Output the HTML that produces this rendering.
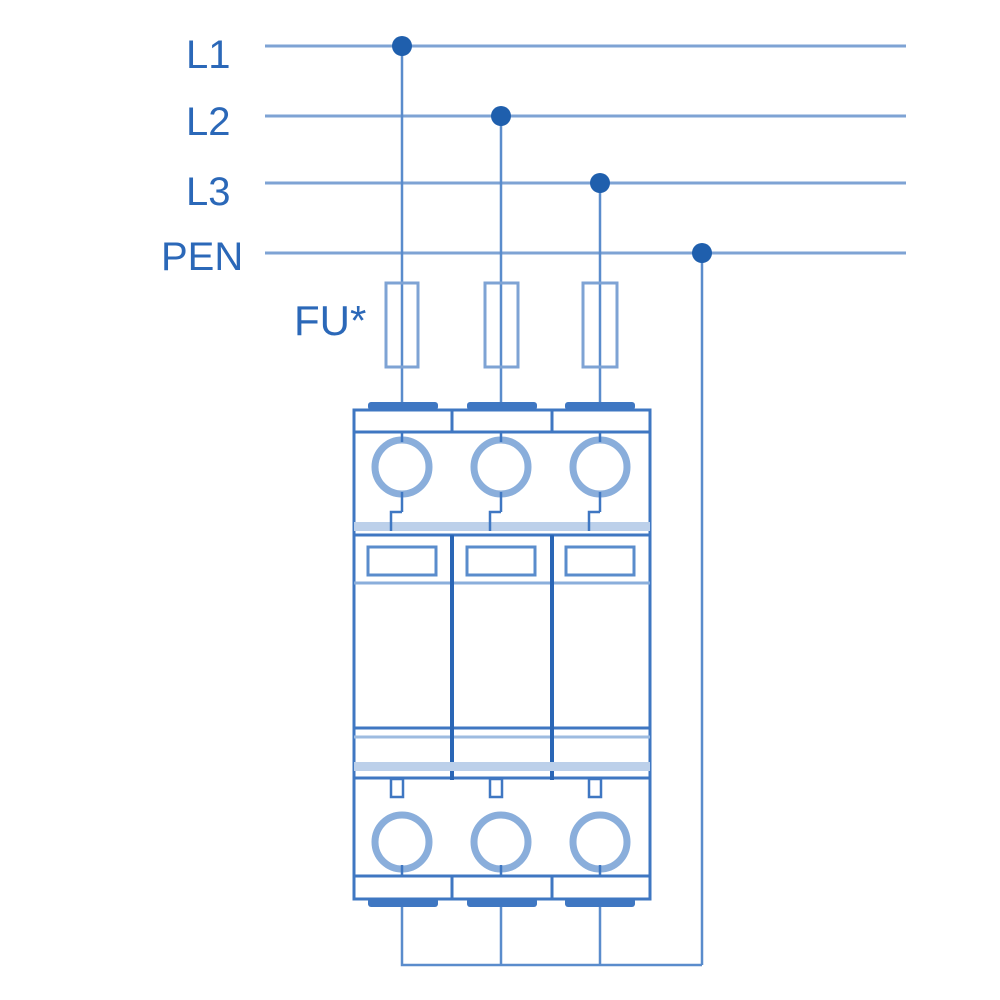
<!DOCTYPE html>
<html><head><meta charset="utf-8"><style>
html,body{margin:0;padding:0;background:#fff;}
svg{display:block;}
text{font-family:"Liberation Sans",sans-serif;fill:#2b68b8;}
</style></head><body>
<svg width="1000" height="1000" viewBox="0 0 1000 1000">
<g stroke="#7ea3d4" stroke-width="3" fill="none">
  <line x1="265" y1="46" x2="906" y2="46"/>
  <line x1="265" y1="116" x2="906" y2="116"/>
  <line x1="265" y1="183" x2="906" y2="183"/>
  <line x1="265" y1="253" x2="906" y2="253"/>
</g>
<g stroke="#5a8ccc" stroke-width="2.5" fill="none">
  <line x1="402" y1="46" x2="402" y2="410"/>
  <line x1="501" y1="116" x2="501" y2="410"/>
  <line x1="600" y1="183" x2="600" y2="410"/>
  <line x1="702" y1="253" x2="702" y2="965"/>
  <polyline points="402,905 402,965 702,965"/>
  <line x1="501" y1="905" x2="501" y2="965"/>
  <line x1="600" y1="905" x2="600" y2="965"/>
</g>
<g fill="#1f5fad">
  <circle cx="402" cy="46" r="10"/>
  <circle cx="501" cy="116" r="10"/>
  <circle cx="600" cy="183" r="10"/>
  <circle cx="702" cy="253" r="10"/>
</g>
<text x="186" y="68" font-size="40">L1</text>
<text x="186" y="135" font-size="40">L2</text>
<text x="186" y="205" font-size="40">L3</text>
<text x="161" y="270" font-size="40">PEN</text>
<text x="294" y="335" font-size="42">FU*</text>
<g stroke="#7ea3d4" stroke-width="3" fill="none">
  <rect x="386" y="283" width="32" height="84"/>
  <rect x="485" y="283" width="33" height="84"/>
  <rect x="583" y="283" width="34" height="84"/>
</g>
<g fill="#3f77c2">
  <rect x="368" y="402" width="70" height="8" rx="3"/>
  <rect x="467" y="402" width="70" height="8" rx="3"/>
  <rect x="565" y="402" width="70" height="8" rx="3"/>
  <rect x="368" y="898" width="70" height="9" rx="3"/>
  <rect x="467" y="898" width="70" height="9" rx="3"/>
  <rect x="565" y="898" width="70" height="9" rx="3"/>
</g>
<g stroke="#3f77c2" stroke-width="3" fill="none">
  <rect x="354" y="410" width="296" height="489"/>
  <line x1="354" y1="432" x2="650" y2="432"/>
  <line x1="452" y1="410" x2="452" y2="432"/>
  <line x1="552" y1="410" x2="552" y2="432"/>
  <line x1="354" y1="535" x2="650" y2="535"/>
  <line x1="354" y1="876" x2="650" y2="876"/>
  <line x1="452" y1="876" x2="452" y2="899"/>
  <line x1="552" y1="876" x2="552" y2="899"/>
  <line x1="354" y1="583" x2="650" y2="583" stroke="#8aaedb"/>
  <line x1="354" y1="728" x2="650" y2="728"/>
  <line x1="354" y1="737" x2="650" y2="737" stroke="#9dbbe0"/>
  <line x1="354" y1="778" x2="650" y2="778"/>
</g>
<g stroke="#2a66b6" stroke-width="4">
  <line x1="452" y1="535" x2="452" y2="780"/>
  <line x1="552" y1="535" x2="552" y2="780"/>
</g>
<g fill="#bcd0ea">
  <rect x="354" y="522" width="296" height="9"/>
  <rect x="354" y="762" width="296" height="9"/>
</g>
<g stroke="#5a8ccc" stroke-width="3" fill="none">
  <rect x="368" y="547" width="68" height="28"/>
  <rect x="467" y="547" width="68" height="28"/>
  <rect x="566" y="547" width="68" height="28"/>
</g>
<g stroke="#8aaedb" stroke-width="7" fill="#fff">
  <circle cx="402" cy="467" r="27"/>
  <circle cx="501" cy="467" r="27"/>
  <circle cx="600" cy="467" r="27"/>
  <circle cx="402" cy="842" r="27"/>
  <circle cx="501" cy="842" r="27"/>
  <circle cx="600" cy="842" r="27"/>
</g>
<g stroke="#3f77c2" stroke-width="2.5" fill="none">
  <line x1="402" y1="432" x2="402" y2="442"/>
  <line x1="501" y1="432" x2="501" y2="442"/>
  <line x1="600" y1="432" x2="600" y2="442"/>
  <line x1="402" y1="492" x2="402" y2="512"/>
  <line x1="501" y1="492" x2="501" y2="512"/>
  <line x1="600" y1="492" x2="600" y2="512"/>
  <polyline points="391,531 391,512 402,512"/>
  <polyline points="490,531 490,512 501,512"/>
  <polyline points="589,531 589,512 600,512"/>
  <rect x="391" y="779" width="12" height="18"/>
  <rect x="490" y="779" width="12" height="18"/>
  <rect x="589" y="779" width="12" height="18"/>
  <line x1="402" y1="865" x2="402" y2="876"/>
  <line x1="501" y1="865" x2="501" y2="876"/>
  <line x1="600" y1="865" x2="600" y2="876"/>
</g>
</svg>
</body></html>
